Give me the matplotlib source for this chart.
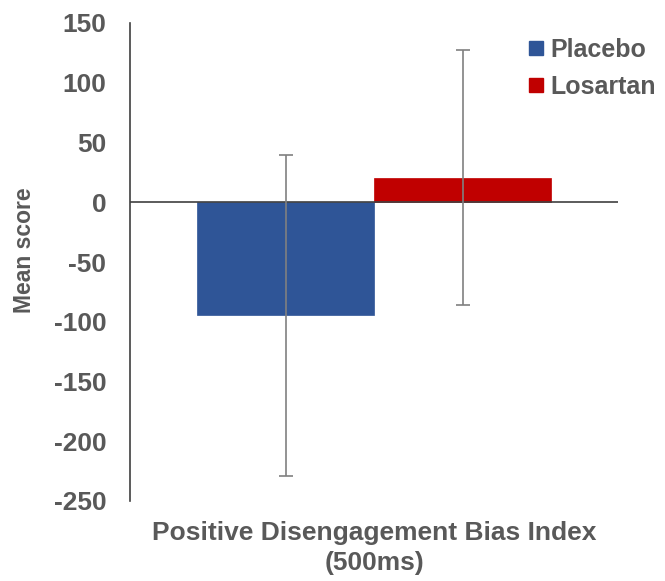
import matplotlib
matplotlib.use("Agg")
import matplotlib.pyplot as plt
from matplotlib.lines import Line2D

plt.rcParams['font.family'] = ['Liberation Sans', 'DejaVu Sans']

groups = ["Placebo", "Losartan"]
means = [-94.7, 20.7]
errors = [134.0, 107.0]
colors = ["#2F5597", "#C00000"]
category = "Positive Disengagement Bias Index\n(500ms)"
yticks = [-250, -200, -150, -100, -50, 0, 50, 100, 150]

text_color = "#595959"

fig = plt.figure(figsize=(6.65, 5.81), dpi=100)
ax = fig.add_axes([130/665, 1-501/581, 488/665, 478/581])

width = 177/488
offsets = [-width/2, width/2]
for off, m, e, c in zip(offsets, means, errors, colors):
    ax.bar(off, m, width=width, color=c, edgecolor=c, linewidth=0.5, zorder=2)
    ax.errorbar(off, m, yerr=e, fmt='none', ecolor="#808080", elinewidth=1.2,
                capsize=5, capthick=1.2, zorder=3)

ax.axhline(0, color="#404040", linewidth=1.2, zorder=2.5)
ax.set_xlim(-0.5, 0.5)
ax.set_ylim(-250, 150)
ax.set_yticks(yticks)
ax.set_yticklabels([str(t) for t in yticks], fontsize=19, fontweight='bold', color=text_color)
ax.tick_params(axis='y', length=0, pad=17)
ax.set_xticks([])
for s in ['top', 'right', 'bottom']:
    ax.spines[s].set_visible(False)
ax.spines['left'].set_color("#404040")
ax.spines['left'].set_linewidth(1.2)

fig.text(25/665, 1-250/581, "Mean score", rotation=90, ha='center', va='center',
         fontsize=16.5, fontweight='bold', color=text_color)
fig.text(374/665, 1-548/581, category, ha='center', va='center', fontsize=19,
         fontweight='bold', color=text_color, linespacing=1.3)

handles = [Line2D([0], [0], marker='s', linestyle='none', markersize=10,
                  markerfacecolor=c, markeredgecolor=c) for c in colors]
leg = fig.legend(handles, groups, loc='upper left', bbox_to_anchor=(513/665, 1-28/581),
                 frameon=False, fontsize=18, handletextpad=0.1, labelspacing=0.5,
                 borderaxespad=0, handlelength=1.0)
for t in leg.get_texts():
    t.set_color(text_color)
    t.set_fontweight('bold')

fig.savefig("out.png", dpi=100)
